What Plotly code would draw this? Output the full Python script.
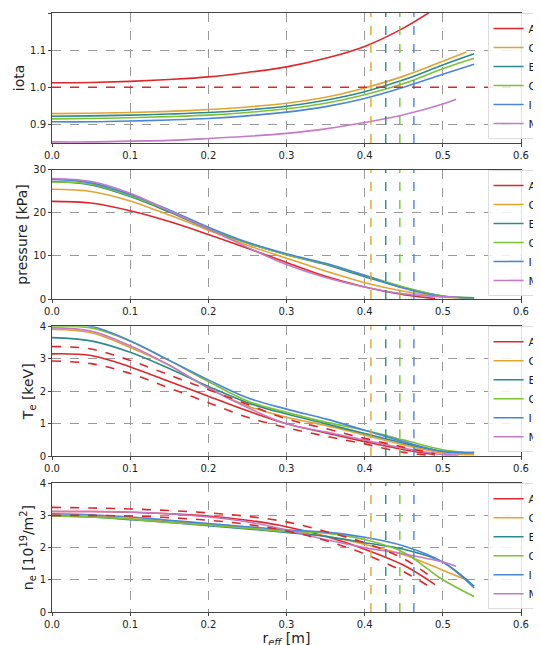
import plotly.graph_objects as go

names = ['A', 'C', 'E', 'G', 'I', 'M']
colors = ['#e0262a', '#e3a330', '#2b8a8c', '#7cc233', '#4a86d8', '#c57ac8']

r = [0, 0.05, 0.1, 0.15, 0.2, 0.25, 0.3, 0.35, 0.4, 0.45, 0.5, 0.54]
r_A = [0, 0.05, 0.1, 0.15, 0.2, 0.25, 0.3, 0.35, 0.4, 0.45, 0.49]
r_C = [0, 0.05, 0.1, 0.15, 0.2, 0.25, 0.3, 0.35, 0.4, 0.45, 0.5, 0.53]
r_M = [0, 0.05, 0.1, 0.15, 0.2, 0.25, 0.3, 0.35, 0.4, 0.45, 0.5, 0.517]
r_Aiota = [0, 0.05, 0.1, 0.15, 0.2, 0.25, 0.3, 0.35, 0.4, 0.45, 0.5]

# vertical separator radii for C, E, G, I
sep_r = [0.408, 0.427, 0.445, 0.463]
sep_colors = [colors[1], colors[2], colors[3], colors[4]]

iota = {
    'A': [1.012, 1.013, 1.016, 1.021, 1.028, 1.040, 1.055, 1.078, 1.11, 1.16, 1.225],
    'C': [0.929, 0.930, 0.932, 0.935, 0.940, 0.947, 0.957, 0.973, 0.998, 1.03, 1.07, 1.095],
    'E': [0.922, 0.923, 0.925, 0.928, 0.932, 0.939, 0.949, 0.965, 0.988, 1.02, 1.06, 1.09],
    'G': [0.915, 0.916, 0.918, 0.921, 0.925, 0.932, 0.942, 0.957, 0.980, 1.01, 1.05, 1.078],
    'I': [0.907, 0.907, 0.909, 0.912, 0.916, 0.923, 0.933, 0.948, 0.970, 1.0, 1.035, 1.062],
    'M': [0.853, 0.853, 0.855, 0.857, 0.862, 0.868, 0.876, 0.888, 0.905, 0.926, 0.955, 0.968],
}
pressure = {
    'A': [22.7, 22.3, 20.5, 18, 15, 11.8, 8.5, 5.3, 2.8, 1.0, 0.1],
    'C': [25.5, 25, 22.8, 19.5, 16, 12.5, 9.5, 6.5, 3.8, 1.8, 0.5, 0.2],
    'E': [27.3, 26.5, 23.8, 20.2, 16.3, 13, 10.3, 8, 5.2, 2.6, 0.7, 0.3],
    'G': [27.2, 26.7, 24, 20.5, 16.5, 13, 10.3, 8.2, 5.5, 2.8, 0.7, 0.3],
    'I': [27.8, 27, 24.3, 20.7, 16.7, 13.2, 10.5, 8.3, 5.5, 2.5, 0.6, 0.3],
    'M': [28, 27.3, 24.6, 20.5, 16.3, 12, 8.0, 5.0, 2.8, 1.2, 0.5, 0.4],
}
te = {
    'A': [3.15, 3.1, 2.75, 2.3, 1.85, 1.4, 1.0, 0.72, 0.45, 0.2, 0.05],
    'C': [3.9, 3.8, 3.35, 2.8, 2.1, 1.55, 1.2, 0.95, 0.65, 0.35, 0.1, 0.05],
    'E': [3.65, 3.55, 3.2, 2.7, 2.15, 1.65, 1.3, 1.0, 0.7, 0.4, 0.15, 0.1],
    'G': [4.0, 3.95, 3.55, 2.95, 2.3, 1.7, 1.35, 1.05, 0.8, 0.5, 0.2, 0.1],
    'I': [4.05, 4.0, 3.55, 2.95, 2.35, 1.8, 1.45, 1.15, 0.8, 0.45, 0.15, 0.12],
    'M': [3.95, 3.85, 3.4, 2.8, 2.1, 1.5, 1.0, 0.75, 0.5, 0.25, 0.05, 0.04],
}
te_A_hi = [3.38, 3.3, 2.95, 2.5, 2.05, 1.6, 1.15, 0.85, 0.55, 0.28, 0.08]
te_A_lo = [2.93, 2.85, 2.55, 2.1, 1.65, 1.2, 0.88, 0.62, 0.38, 0.12, 0.02]
ne = {
    'A': [3.12, 3.12, 3.1, 3.05, 2.98, 2.85, 2.65, 2.35, 1.95, 1.45, 0.85],
    'C': [3.0, 2.97, 2.9, 2.82, 2.73, 2.62, 2.5, 2.35, 2.1, 1.78, 1.3, 1.0],
    'E': [2.98, 2.95, 2.87, 2.78, 2.68, 2.58, 2.47, 2.35, 2.15, 1.95, 1.55, 0.8],
    'G': [2.98, 2.95, 2.88, 2.78, 2.7, 2.6, 2.5, 2.45, 2.25, 1.85, 1.0, 0.48],
    'I': [3.05, 3.02, 2.95, 2.85, 2.75, 2.65, 2.55, 2.48, 2.32, 2.05, 1.55, 0.75],
    'M': [3.12, 3.12, 3.1, 3.05, 2.95, 2.8, 2.55, 2.25, 2.0, 1.8, 1.55, 1.42],
}
ne_A_hi = [3.25, 3.23, 3.2, 3.15, 3.08, 2.97, 2.8, 2.5, 2.15, 1.65, 1.0]
ne_A_lo = [3.0, 3.0, 2.98, 2.93, 2.85, 2.72, 2.52, 2.22, 1.8, 1.25, 0.68]


def x_for(name, panel):
    if name == 'A':
        return r_Aiota if panel == 0 else r_A
    if name == 'C' and panel in (0, 3):
        return r_C
    if name == 'M':
        return r_M if panel in (0, 3) else r_C[:-1] + [0.52]
    return r


fig = go.Figure()
domains = [[0.783, 1], [0.5225, 0.738], [0.26, 0.477], [0, 0.215]]
panels = [iota, pressure, te, ne]
ranges = [[0.85, 1.2], [0, 30], [0, 4], [0, 4]]
dticks = [0.1, 10, 1, 1]
titles = ['iota', 'pressure [kPa]', 'T<sub>e</sub> [keV]', 'n<sub>e</sub> [10<sup>19</sup>/m<sup>2</sup>]']
font = 'DejaVu Sans'

for p, data in enumerate(panels):
    xa = 'x' if p == 0 else 'x%d' % (p + 1)
    ya = 'y' if p == 0 else 'y%d' % (p + 1)
    lg = 'legend' if p == 0 else 'legend%d' % (p + 1)
    for n, c in zip(names, colors):
        fig.add_trace(go.Scatter(x=x_for(n, p), y=data[n], mode='lines', name=n,
                                 line=dict(color=c, width=1.6, shape='spline'),
                                 xaxis=xa, yaxis=ya, legend=lg))
    if p == 2 or p == 3:
        hi, lo = (te_A_hi, te_A_lo) if p == 2 else (ne_A_hi, ne_A_lo)
        for band in (hi, lo):
            fig.add_trace(go.Scatter(x=r_A, y=band, mode='lines', showlegend=False,
                                     line=dict(color=colors[0], width=1.6, dash='dash', shape='spline'),
                                     xaxis=xa, yaxis=ya))
    for sx, sc in zip(sep_r, sep_colors):
        fig.add_shape(type='line', x0=sx, x1=sx, y0=0, y1=1, xref=xa, yref=ya + ' domain',
                      line=dict(color=sc, width=1.4, dash='dash'))
    if p == 0:
        fig.add_shape(type='line', x0=0, x1=1, y0=1.0, y1=1.0, xref='x domain', yref='y',
                      line=dict(color=colors[0], width=1.6, dash='dash'))

    axis_common = dict(showline=True, linecolor='#444', mirror=True, ticks='outside',
                       tickcolor='#444', ticklen=3, showgrid=True, gridcolor='#999',
                       griddash='dash', zeroline=False, automargin=False,
                       tickfont=dict(size=10, color='#222'))
    fig.layout[('xaxis' if p == 0 else 'xaxis%d' % (p + 1))] = dict(
        range=[0, 0.6], dtick=0.1, tickformat='.1f', anchor=ya, **axis_common)
    fig.layout[('yaxis' if p == 0 else 'yaxis%d' % (p + 1))] = dict(
        range=ranges[p], dtick=dticks[p], domain=domains[p], anchor=xa,
        title=dict(text=titles[p], font=dict(size=14, color='#222'), standoff=2),
        tickformat='.1f' if p == 0 else 'd', **axis_common)
    fig.layout[lg] = dict(x=1.048, xanchor='right', y=domains[p][1], yanchor='top',
                          bgcolor='rgba(255,255,255,0.85)', bordercolor='#ddd', borderwidth=1,
                          font=dict(size=11, color='#222'), tracegroupgap=0,
                          itemwidth=30, entrywidth=10)

fig.layout.xaxis4.title = dict(text='r<sub><i>eff</i></sub> [m]', font=dict(size=14, color='#222'), standoff=2)
fig.update_layout(width=541, height=645, margin=dict(l=44, r=27, t=5, b=41),
                  plot_bgcolor='white', paper_bgcolor='white', font=dict(family=font))
fig.write_html("out.html")
